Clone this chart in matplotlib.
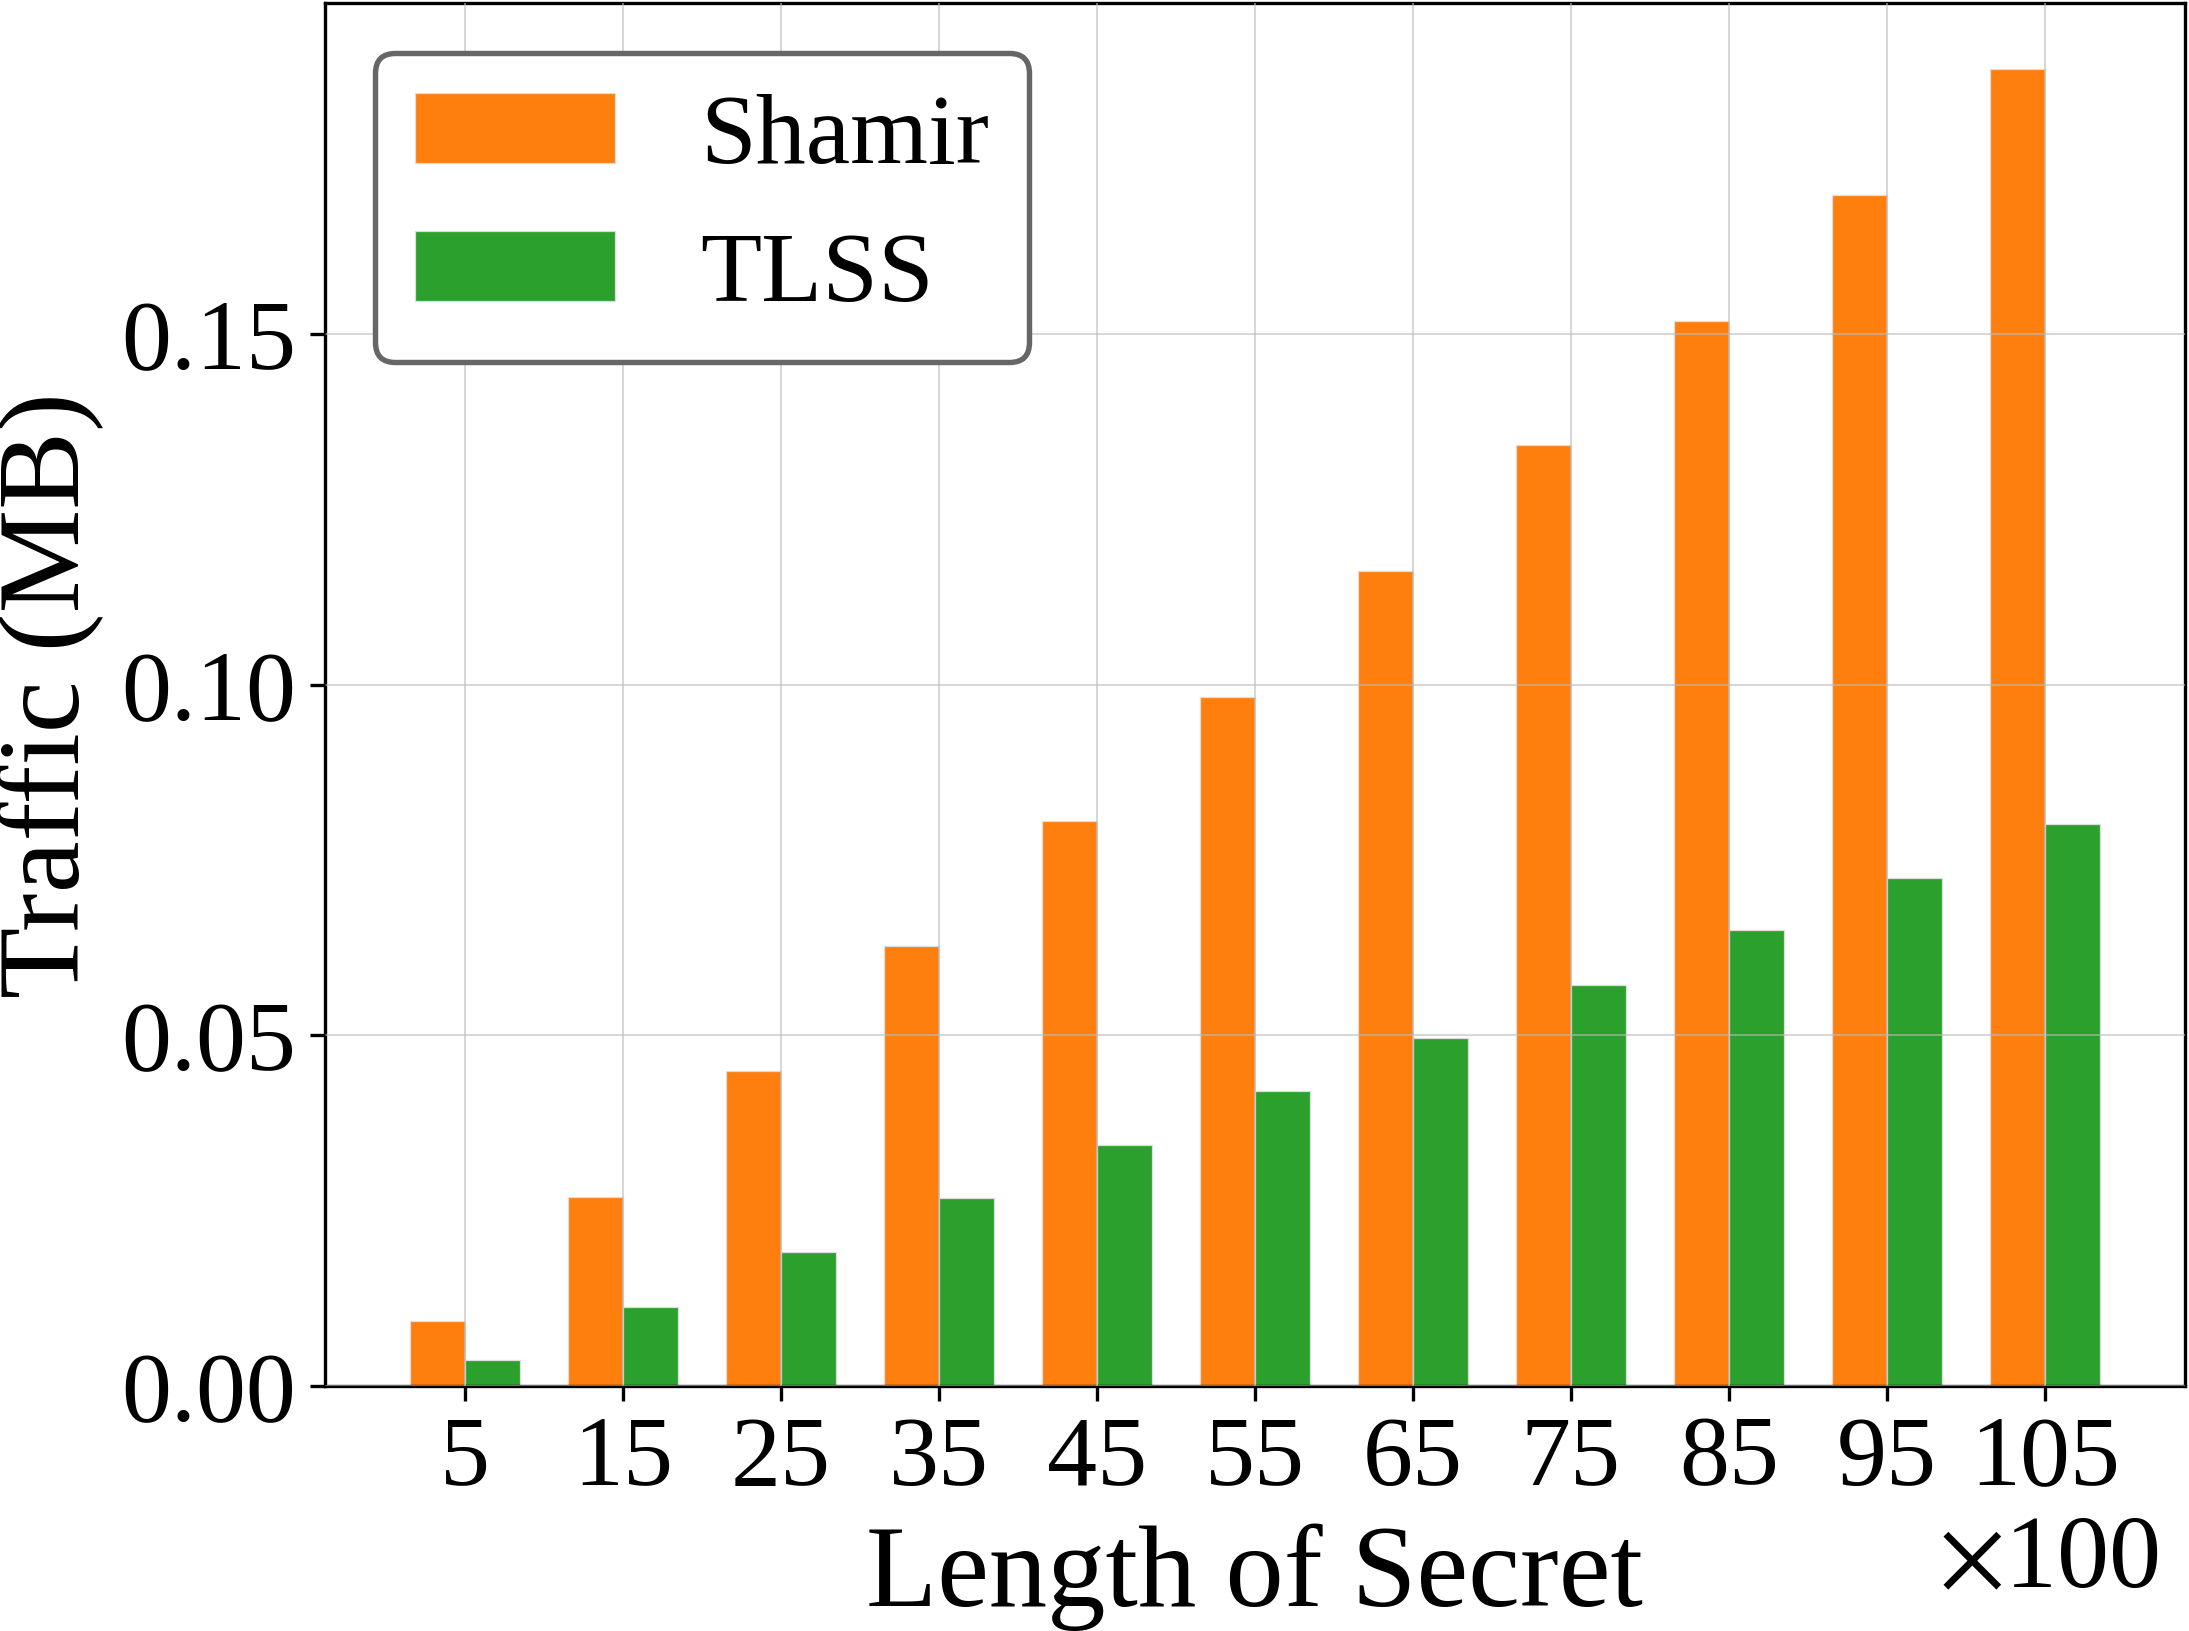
import numpy as np
import matplotlib
matplotlib.use('Agg')
import matplotlib.pyplot as plt

plt.rcParams['font.family'] = ['Liberation Serif', 'DejaVu Serif']
plt.rcParams['mathtext.fontset'] = 'stix'

# data
lengths = [5, 15, 25, 35, 45, 55, 65, 75, 85, 95, 105]
shamir = [0.0093, 0.0270, 0.0449, 0.0628, 0.0805, 0.0983,
          0.1162, 0.1341, 0.1518, 0.1697, 0.1877]
tlss = [0.0038, 0.0113, 0.0191, 0.0268, 0.0344, 0.0421,
        0.0497, 0.0572, 0.0650, 0.0725, 0.0801]
yticks = [0.00, 0.05, 0.10, 0.15]

################################################################################

fig = plt.figure(figsize=(2189/300, 1631/300), dpi=300)
ax = fig.add_axes([0.1485, 0.150, 0.8495, 0.848])

x = np.array(lengths, dtype=float)
width = 3.5
ax.bar(x - width/2, shamir, width, color='#ff7f0e', label='Shamir',
       edgecolor='#dddddd', linewidth=0.3)
ax.bar(x + width/2, tlss, width, color='#2ca02c', label='TLSS',
       edgecolor='#dddddd', linewidth=0.3)

ax.set_axisbelow(False)
ax.grid(True, color='#bbbbbb', linewidth=0.4, alpha=0.7)

ax.set_xticks(lengths)
ax.set_xticklabels([str(v) for v in lengths])
ax.set_yticks(yticks)
ax.set_yticklabels([f'{v:.2f}' for v in yticks])
ax.tick_params(labelsize=24, width=0.8, length=3.5)
for s in ax.spines.values():
    s.set_linewidth(0.8)

ax.set_xlabel('Length of Secret', fontsize=28, labelpad=4.4)
ax.set_ylabel('Traffic (MB)', fontsize=28, labelpad=4)
ax.text(0.986, -0.145, r'$\times$100', transform=ax.transAxes,
        ha='right', va='baseline', fontsize=25)

leg = ax.legend(loc='upper left', fontsize=24, handletextpad=0.85,
                labelspacing=0.47, fancybox=True, framealpha=1)
leg.get_frame().set_edgecolor('#666666')
leg.get_frame().set_linewidth(1.3)

fig.savefig('out.png', dpi=300)
